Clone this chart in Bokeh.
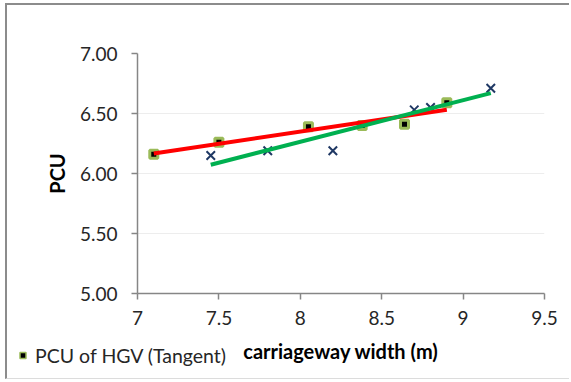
import numpy as np
from bokeh.plotting import figure
from bokeh.models import Range1d, FixedTicker, Legend, LegendItem
from bokeh.embed import file_html
from bokeh.resources import INLINE

# data
tangent_width = [7.10, 7.50, 8.05, 8.38, 8.64, 8.90]
tangent_pcu = [6.16, 6.26, 6.39, 6.40, 6.41, 6.59]
other_width = [7.45, 7.80, 8.20, 8.70, 8.80, 9.17]
other_pcu = [6.15, 6.19, 6.19, 6.53, 6.55, 6.71]
x_ticks = [7, 7.5, 8, 8.5, 9, 9.5]
x_tick_labels = ["7", "7.5", "8", "8.5", "9", "9.5"]
y_ticks = [5.0, 5.5, 6.0, 6.5, 7.0]
y_tick_labels = ["5.00", "5.50", "6.00", "6.50", "7.00"]
legend_label = "PCU of HGV (Tangent)"
x_title = "carriageway width (m)"
y_title = "PCU"

FONT = "Lato"
TXT = "#262626"
AXC = "#868686"
SQ_LINE = "#9bbb59"

p = figure(width=564, height=376, x_range=Range1d(7, 9.5), y_range=Range1d(5, 7),
           output_backend="svg", toolbar_location=None,
           min_border_left=130, min_border_right=27, min_border_top=48, min_border_bottom=88)
p.styles = {"margin-left": "5px", "margin-top": "3px",
            "border-left": "2px solid #8c8c8c", "border-top": "2px solid #8c8c8c",
            "border-bottom": "1px solid #dcdcdc"}
p.outline_line_color = None
p.background_fill_color = "white"
p.border_fill_color = "white"
p.xgrid.grid_line_color = None
p.ygrid.grid_line_color = "#ededed"
p.ygrid.ticker = FixedTicker(ticks=y_ticks)

for ax in (p.xaxis[0], p.yaxis[0]):
    ax.axis_line_color = AXC
    ax.axis_line_width = 1.5
    ax.major_tick_line_color = AXC
    ax.major_tick_line_width = 1.5
    ax.major_tick_out = 6
    ax.major_tick_in = 0
    ax.minor_tick_out = 0
    ax.minor_tick_in = 0
    ax.major_label_text_font = FONT
    ax.major_label_text_font_size = "19px"
    ax.major_label_text_color = TXT
    ax.axis_label_text_font = FONT
    ax.axis_label_text_font_size = "20px"
    ax.axis_label_text_font_style = "bold"
    ax.axis_label_text_color = "#000000"

p.xaxis.ticker = FixedTicker(ticks=x_ticks)
p.xaxis.major_label_overrides = {t: l for t, l in zip(x_ticks, x_tick_labels)}
p.xaxis.major_label_standoff = 11
p.xaxis.axis_label = x_title
p.xaxis.axis_label_standoff = 11

p.yaxis.ticker = FixedTicker(ticks=y_ticks)
p.yaxis.major_label_overrides = {t: l for t, l in zip(y_ticks, y_tick_labels)}
p.yaxis.major_label_standoff = 14
p.yaxis.axis_label = y_title
p.yaxis.axis_label_standoff = 8

p.scatter(tangent_width, tangent_pcu, marker="square", size=8,
          fill_color="#000000", line_color=SQ_LINE, line_width=3)
p.scatter(other_width, other_pcu, marker="x", size=12,
          line_color="#1f3864", line_width=2)

# linear trendlines computed from the data
a1, b1 = np.polyfit(tangent_width, tangent_pcu, 1)
tx = [min(tangent_width), max(tangent_width)]
p.line(tx, [a1 * v + b1 for v in tx], line_color="#ff0000", line_width=4)
a2, b2 = np.polyfit(other_width, other_pcu, 1)
ox = [min(other_width), max(other_width)]
p.line(ox, [a2 * v + b2 for v in ox], line_color="#00b050", line_width=4)

# legend row at the bottom-left (outside the plot area, as in the reference)
leg = figure(width=222, height=26, x_range=Range1d(0, 1), y_range=Range1d(0, 1),
             output_backend="svg", toolbar_location=None,
             x_axis_location=None, y_axis_location=None,
             min_border_left=0, min_border_right=0, min_border_top=0, min_border_bottom=0)
leg.styles = {"position": "absolute", "left": "15px", "top": "342px"}
leg.outline_line_color = None
leg.grid.grid_line_color = None
leg.background_fill_alpha = 0
leg.border_fill_alpha = 0
# same series (outside this strip's ranges, so only its legend swatch shows)
swatch = leg.scatter(tangent_width, tangent_pcu, marker="square", size=8,
                     fill_color="#000000", line_color=SQ_LINE, line_width=1.5)
legend = Legend(items=[LegendItem(label=legend_label, renderers=[swatch])],
                location="center_left", padding=0, margin=0, spacing=0,
                glyph_width=15, glyph_height=15, label_standoff=5,
                label_text_font=FONT, label_text_font_size="19.5px", label_text_color=TXT,
                background_fill_alpha=0, border_line_alpha=0)
leg.add_layout(legend)

open("out.html", "w").write(file_html([p, leg], INLINE))
